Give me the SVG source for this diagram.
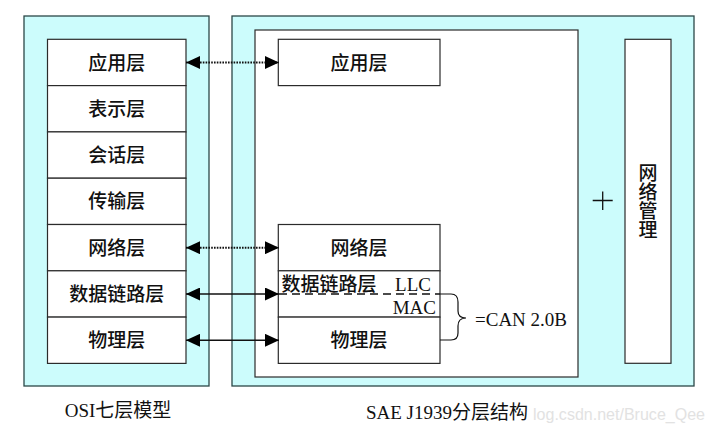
<svg xmlns="http://www.w3.org/2000/svg" width="716" height="431" viewBox="0 0 716 431">
<style>
.outer{fill:#ccfcfc;stroke:#2b4848;stroke-width:1.3}
.box{fill:#ffffff;stroke:#2b2b2b;stroke-width:1.2}
.cn{font-family:"Noto Sans CJK SC","Noto Sans",sans-serif;font-size:19px;font-weight:500;fill:#111}
.vt{font-family:"Noto Sans CJK SC","Noto Sans",sans-serif;font-size:19px;font-weight:500;fill:#111;writing-mode:vertical-rl}
.lat{font-family:"Liberation Serif","Noto Sans CJK SC",serif;font-size:19px;fill:#111}
.dot{stroke:#111;stroke-width:2;stroke-dasharray:1.6 1.2;fill:none}
.sol{stroke:#111;stroke-width:1.5;fill:none}
</style>
<defs>
<marker id="ah" viewBox="0 0 14 13" refX="14" refY="6.5" markerWidth="14" markerHeight="13" markerUnits="userSpaceOnUse" orient="auto-start-reverse">
<path d="M0,0 L14,6.5 L0,13 z" fill="#000"/>
</marker>
</defs>
<rect width="716" height="431" fill="#ffffff"/>
<g id="osi">
<rect class="outer" x="24" y="16" width="185" height="370"/>
<g id="osi-app"><rect class="box" x="47.5" y="39.3" width="138.5" height="46.3"/><text class="cn" x="116.7" y="69.5" text-anchor="middle">应用层</text></g>
<g id="osi-pres"><rect class="box" x="47.5" y="85.6" width="138.5" height="46.3"/><text class="cn" x="116.7" y="115.8" text-anchor="middle">表示层</text></g>
<g id="osi-sess"><rect class="box" x="47.5" y="131.9" width="138.5" height="46.3"/><text class="cn" x="116.7" y="162.1" text-anchor="middle">会话层</text></g>
<g id="osi-trans"><rect class="box" x="47.5" y="178.2" width="138.5" height="46.3"/><text class="cn" x="116.7" y="208.4" text-anchor="middle">传输层</text></g>
<g id="osi-net"><rect class="box" x="47.5" y="224.5" width="138.5" height="46.3"/><text class="cn" x="116.7" y="254.7" text-anchor="middle">网络层</text></g>
<g id="osi-dl"><rect class="box" x="47.5" y="270.8" width="138.5" height="46.3"/><text class="cn" x="116.7" y="301" text-anchor="middle">数据链路层</text></g>
<g id="osi-phy"><rect class="box" x="47.5" y="317.1" width="138.5" height="46.3"/><text class="cn" x="116.7" y="347.3" text-anchor="middle">物理层</text></g>
<text class="lat" x="118" y="417" text-anchor="middle">OSI七层模型</text>
</g>
<g id="j1939">
<rect class="outer" x="232" y="16" width="462" height="370"/>
<rect class="box" x="255" y="30" width="323" height="347"/>
<g id="j-app"><rect class="box" x="278.3" y="39.3" width="161.7" height="46.3"/><text class="cn" x="359" y="69.5" text-anchor="middle">应用层</text></g>
<g id="j-net"><rect class="box" x="278.3" y="224.5" width="161.7" height="46.3"/><text class="cn" x="359" y="254.7" text-anchor="middle">网络层</text></g>
<g id="j-dl"><rect class="box" x="278.3" y="270.8" width="161.7" height="46.3"/>
<text class="cn" x="281.5" y="291">数据链路层</text>
<text class="lat" x="431" y="291" text-anchor="end">LLC</text>
<text class="lat" x="436" y="314" text-anchor="end">MAC</text>
</g>
<g id="j-phy"><rect class="box" x="278.3" y="317.1" width="161.7" height="46.3"/><text class="cn" x="359" y="347.3" text-anchor="middle">物理层</text></g>
<g id="plus"><path d="M592.7,200.5 H612.7 M602.7,191.5 V210" stroke="#111" stroke-width="1.3" fill="none"/></g>
<g id="netmgmt"><rect class="box" x="625" y="39.3" width="46" height="324"/>
<text class="vt" x="648" y="163">网络管理</text>
</g>
<text class="lat" x="475" y="326">=CAN 2.0B</text>
<text class="lat" x="447" y="419" text-anchor="middle">SAE J1939分层结构</text>
</g>
<g id="connectors">
<line class="dot" x1="186" y1="62.5" x2="279" y2="62.5" marker-start="url(#ah)" marker-end="url(#ah)"/>
<line class="dot" x1="186" y1="247.7" x2="279" y2="247.7" marker-start="url(#ah)" marker-end="url(#ah)"/>
<line class="sol" x1="186" y1="294" x2="279" y2="294" marker-start="url(#ah)" marker-end="url(#ah)"/>
<line class="sol" x1="186" y1="340.3" x2="279" y2="340.3" marker-start="url(#ah)" marker-end="url(#ah)"/>
<line x1="279" y1="294" x2="440" y2="294" stroke="#111" stroke-width="1.5" stroke-dasharray="8 5"/>
<path d="M440,294 H451 Q458,294 458,302 V311 Q458,318 466,318 Q458,318 458,326 V333 Q458,340 451,340 H440" fill="none" stroke="#111" stroke-width="1.2"/>
</g>
<text x="533" y="420" font-family="Liberation Sans, Arial, sans-serif" font-size="16" fill="#e2e2e2" textLength="172">log.csdn.net/Bruce_Qee</text>
</svg>
